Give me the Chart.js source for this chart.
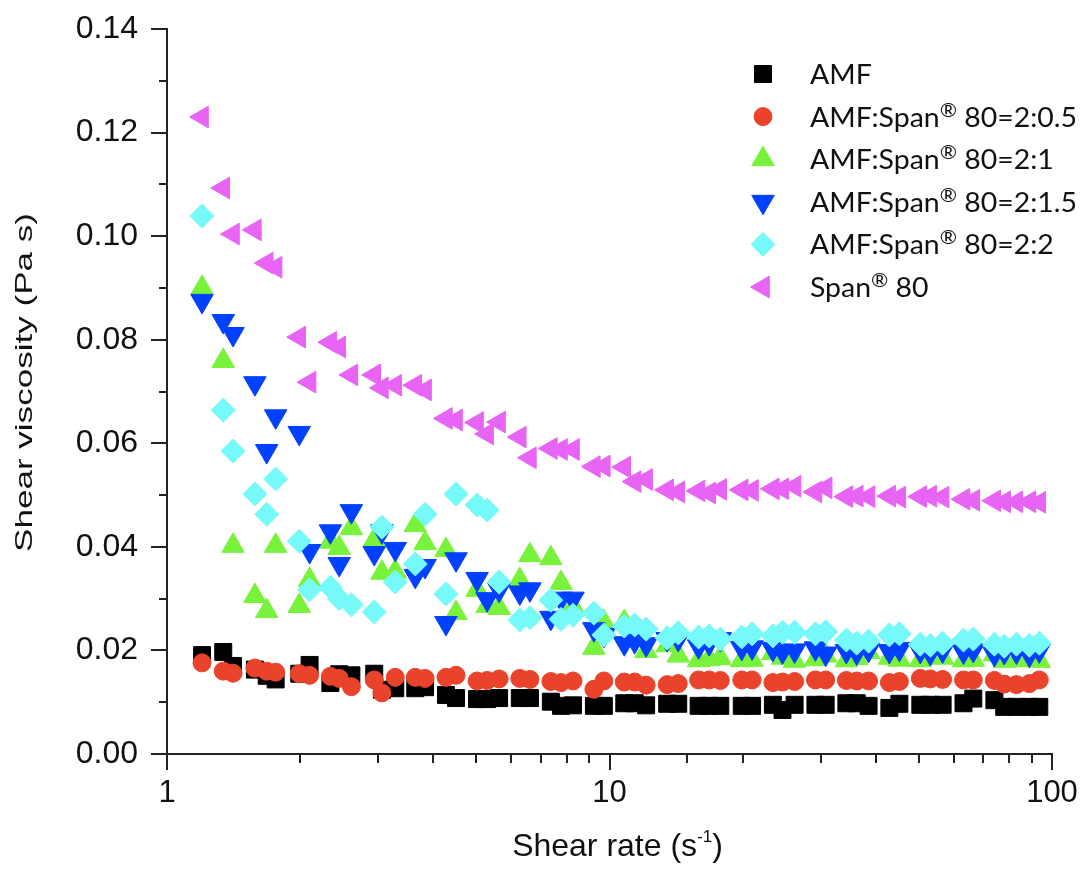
<!DOCTYPE html>
<html>
<head>
<meta charset="utf-8">
<title>Shear viscosity vs shear rate</title>
<script src="https://cdn.jsdelivr.net/npm/chart.js@4.4.1/dist/chart.umd.min.js"></script>
<style>
  html, body { margin: 0; padding: 0; background: #fff; }
  #wrap { width: 1083px; height: 869px; }
</style>
</head>
<body>
<div id="wrap"><canvas id="viscosityChart" width="1083" height="869"></canvas></div>
<script>
// Shear rate (1/s) for every flow curve
const shearRate = [1.20, 1.34, 1.41, 1.58, 1.68, 1.76, 1.99, 2.10, 2.34, 2.45,
    2.61, 2.94, 3.06, 3.28, 3.64, 3.83, 4.27, 4.50, 5.02, 5.29,
    5.63, 6.27, 6.61, 7.37, 7.77, 8.27, 9.22, 9.71, 10.8, 11.4,
    12.1, 13.5, 14.3, 15.9, 16.8, 17.8, 19.9, 21.0, 23.4, 24.6,
    26.2, 29.2, 30.8, 34.3, 36.2, 38.5, 42.9, 45.2, 50.4, 53.1,
    56.6, 63.1, 66.4, 74.1, 78.0, 83.1, 88.9, 93.6];

// Shear viscosity (Pa s)
const amf = [0.0191, 0.0197, 0.0170, 0.0163, 0.0151, 0.0144, 0.0155, 0.0172, 0.0137, 0.0154,
    0.0152, 0.0155, 0.0124, 0.0127, 0.0127, 0.0129, 0.0114, 0.0108, 0.0106, 0.0106,
    0.0108, 0.0108, 0.0108, 0.0101, 0.0093, 0.0094, 0.0093, 0.0093, 0.0098, 0.0098,
    0.0094, 0.0097, 0.0097, 0.0093, 0.0093, 0.0093, 0.0093, 0.0093, 0.0095, 0.0085,
    0.0095, 0.0095, 0.0095, 0.0098, 0.0098, 0.0093, 0.0089, 0.0097, 0.0095, 0.0095,
    0.0095, 0.0098, 0.0107, 0.0104, 0.0091, 0.0091, 0.0091, 0.0091];

const ratio2to05 = [0.0176, 0.0160, 0.0156, 0.0166, 0.0160, 0.0158, 0.0155, 0.0152, 0.0150, 0.0146,
    0.0130, 0.0143, 0.0118, 0.0148, 0.0148, 0.0146, 0.0148, 0.0152, 0.0141, 0.0142,
    0.0145, 0.0146, 0.0144, 0.0140, 0.0138, 0.0141, 0.0125, 0.0141, 0.0139, 0.0139,
    0.0133, 0.0134, 0.0136, 0.0143, 0.0143, 0.0142, 0.0143, 0.0143, 0.0138, 0.0139,
    0.0140, 0.0143, 0.0143, 0.0142, 0.0141, 0.0141, 0.0138, 0.0140, 0.0146, 0.0145,
    0.0144, 0.0143, 0.0143, 0.0142, 0.0135, 0.0134, 0.0136, 0.0143];

const ratio2to1 = [0.0900, 0.0759, 0.0402, 0.0305, 0.0276, 0.0402, 0.0286, 0.0336, 0.0410, 0.0398,
    0.0436, 0.0413, 0.0350, 0.0352, 0.0442, 0.0407, 0.0394, 0.0272, 0.0317, 0.0286,
    0.0282, 0.0336, 0.0384, 0.0378, 0.0330, 0.0285, 0.0205, 0.0255, 0.0255, 0.0225,
    0.0199, 0.0210, 0.0190, 0.0181, 0.0183, 0.0185, 0.0181, 0.0182, 0.0195, 0.0186,
    0.0180, 0.0183, 0.0190, 0.0181, 0.0185, 0.0197, 0.0186, 0.0182, 0.0181, 0.0197,
    0.0186, 0.0181, 0.0182, 0.0192, 0.0180, 0.0181, 0.0182, 0.0180];

const ratio2to15 = [0.0875, 0.0836, 0.0811, 0.0716, 0.0585, 0.0652, 0.0620, 0.0392, 0.0430, 0.0367,
    0.0469, 0.0388, 0.0430, 0.0396, 0.0344, 0.0363, 0.0253, 0.0376, 0.0338, 0.0299,
    0.0317, 0.0312, 0.0318, 0.0263, 0.0300, 0.0300, 0.0241, 0.0230, 0.0214, 0.0218,
    0.0212, 0.0222, 0.0222, 0.0208, 0.0214, 0.0222, 0.0205, 0.0206, 0.0203, 0.0198,
    0.0200, 0.0204, 0.0194, 0.0199, 0.0196, 0.0201, 0.0199, 0.0203, 0.0199, 0.0195,
    0.0200, 0.0198, 0.0201, 0.0193, 0.0197, 0.0198, 0.0192, 0.0200];

const ratio2to2 = [0.1039, 0.0664, 0.0585, 0.0502, 0.0463, 0.0531, 0.0411, 0.0317, 0.0322, 0.0300,
    0.0288, 0.0274, 0.0438, 0.0332, 0.0367, 0.0463, 0.0309, 0.0502, 0.0481, 0.0471,
    0.0332, 0.0259, 0.0263, 0.0297, 0.0260, 0.0268, 0.0272, 0.0230, 0.0247, 0.0249,
    0.0241, 0.0224, 0.0234, 0.0226, 0.0228, 0.0222, 0.0226, 0.0232, 0.0228, 0.0235,
    0.0235, 0.0232, 0.0236, 0.0220, 0.0214, 0.0218, 0.0230, 0.0232, 0.0212, 0.0210,
    0.0214, 0.0220, 0.0222, 0.0212, 0.0208, 0.0212, 0.0210, 0.0214];

const span80 = [0.1230, 0.1093, 0.1004, 0.1012, 0.0948, 0.0940, 0.0805, 0.0718, 0.0795, 0.0786,
    0.0732, 0.0732, 0.0707, 0.0712, 0.0712, 0.0703, 0.0648, 0.0645, 0.0640, 0.0618,
    0.0641, 0.0612, 0.0572, 0.0590, 0.0588, 0.0588, 0.0555, 0.0556, 0.0554, 0.0526,
    0.0530, 0.0510, 0.0506, 0.0508, 0.0504, 0.0511, 0.0510, 0.0509, 0.0512, 0.0512,
    0.0517, 0.0506, 0.0514, 0.0497, 0.0498, 0.0497, 0.0498, 0.0496, 0.0497, 0.0498,
    0.0496, 0.0492, 0.0490, 0.0489, 0.0487, 0.0487, 0.0487, 0.0486];

const seriesLabels = ['AMF', 'AMF:Span® 80=2:0.5', 'AMF:Span® 80=2:1',
    'AMF:Span® 80=2:1.5', 'AMF:Span® 80=2:2', 'Span® 80'];
const seriesValues = [amf, ratio2to05, ratio2to1, ratio2to15, ratio2to2, span80];

// x tick labels (decades) and y range
const xLabels = [1, 10, 100];
const yMin = 0, yMax = 0.14, yStep = 0.01;

// marker look per series
const markers = [
    { color: '#000000', style: 'rect', radius: 12, rotation: 0 },
    { color: '#E9432C', style: 'circle', radius: 9, rotation: 0 },
    { color: '#79F23C', style: 'triangle', radius: 13, rotation: 0 },
    { color: '#0041FF', style: 'triangle', radius: 13, rotation: 180 },
    { color: '#76FAF9', style: 'rectRot', radius: 12, rotation: 0 },
    { color: '#E864F5', style: 'triangle', radius: 12.5, rotation: 270 }
];

const FONT = '"Liberation Sans", Arial, sans-serif';

function buildDatasets() {
    return seriesValues.map((vals, i) => ({
        label: seriesLabels[i],
        data: shearRate.map((x, j) => ({ x: x, y: vals[j] })),
        showLine: false,
        backgroundColor: markers[i].color,
        borderColor: markers[i].color,
        pointStyle: markers[i].style,
        pointRadius: markers[i].radius,
        pointHoverRadius: markers[i].radius,
        pointRotation: markers[i].rotation,
        pointBorderWidth: 1,
        order: seriesValues.length - 1 - i
    }));
}

// text with a raised piece (superscript)
function drawSuperText(ctx, parts, x, y) {
    let cx = x;
    parts.forEach(p => {
        ctx.font = p.font;
        ctx.fillText(p.text, cx, y - (p.rise || 0));
        cx += ctx.measureText(p.text).width;
    });
    return cx - x;
}

function measureParts(ctx, parts) {
    let w = 0;
    parts.forEach(p => { ctx.font = p.font; w += ctx.measureText(p.text).width; });
    return w;
}

// tick marks, axis titles and the legend box
const decorations = {
    id: 'decorations',
    afterDraw(chart) {
        const { ctx, chartArea: a, scales: { x, y } } = chart;
        ctx.save();

        // outward tick marks, long at labelled values
        ctx.strokeStyle = '#222';
        ctx.lineWidth = 2;
        ctx.beginPath();
        y.ticks.forEach(t => {
            const py = Math.round(y.getPixelForValue(t.value));
            const len = Math.round(t.value * 100) % 2 === 0 ? 16 : 8;
            ctx.moveTo(a.left - len, py);
            ctx.lineTo(a.left, py);
        });
        x.ticks.forEach(t => {
            const px = Math.round(x.getPixelForValue(t.value));
            const len = xLabels.includes(t.value) ? 16 : 9;
            ctx.moveTo(px, a.bottom);
            ctx.lineTo(px, a.bottom + len);
        });
        ctx.stroke();

        ctx.fillStyle = '#111';
        ctx.textBaseline = 'alphabetic';
        ctx.textAlign = 'left';

        // x title: Shear rate (s^-1)
        const xParts = [
            { text: 'Shear rate (s', font: '32px ' + FONT },
            { text: '-1', font: '17px ' + FONT, rise: 14 },
            { text: ')', font: '32px ' + FONT }
        ];
        const xw = measureParts(ctx, xParts);
        drawSuperText(ctx, xParts, (a.left + a.right) / 2 + 8 - xw / 2, a.bottom + 102);

        // y title, stretched along its length
        ctx.save();
        ctx.font = '24px ' + FONT;
        const yTitle = 'Shear viscosity (Pa s)';
        const yw = ctx.measureText(yTitle).width;
        ctx.translate(32, (a.top + a.bottom) / 2 - 9);
        ctx.rotate(-Math.PI / 2);
        ctx.scale(339 / yw, 1);
        ctx.textAlign = 'center';
        ctx.fillText(yTitle, 0, 0);
        ctx.restore();

        // legend
        const legendFont = '26px Lato, "Open Sans", sans-serif';
        const regFont = '19px Lato, "Open Sans", sans-serif';
        const pieces = seriesLabels.map(lbl => {
            const k = lbl.indexOf('®');
            if (k < 0) return [{ text: lbl, font: legendFont }];
            return [
                { text: lbl.slice(0, k), font: legendFont },
                { text: '®', font: regFont, rise: 10 },
                { text: ' ' + lbl.slice(k + 1).trim(), font: legendFont }
            ];
        });
        const widest = Math.max(...pieces.map(p => measureParts(ctx, p)));
        const sx = 267 / widest;
        const markX = a.right - 289;
        const textX = a.right - 242;
        chart.data.datasets.forEach((ds, i) => {
            const base = a.top + 55 + i * 42.6;
            ctx.fillStyle = ds.backgroundColor;
            ctx.strokeStyle = ds.borderColor;
            ctx.lineWidth = 1;
            Chart.helpers.drawPoint(ctx, {
                pointStyle: ds.pointStyle,
                radius: ds.pointRadius,
                rotation: ds.pointRotation,
                borderWidth: 1
            }, markX, base - 10);

            ctx.save();
            ctx.fillStyle = '#111';
            ctx.translate(textX, base);
            ctx.scale(sx, 1);
            drawSuperText(ctx, pieces[i], 0, 0);
            ctx.restore();
        });

        ctx.restore();
    }
};

function createChart() {
    const ctx = document.getElementById('viscosityChart').getContext('2d');
    return new Chart(ctx, {
        type: 'scatter',
        data: { datasets: buildDatasets() },
        options: {
            responsive: false,
            animation: false,
            devicePixelRatio: 1,
            layout: { padding: { left: 0, right: 31, top: 29, bottom: 0 } },
            plugins: {
                legend: { display: false },
                tooltip: { enabled: false },
                title: { display: false }
            },
            scales: {
                x: {
                    type: 'logarithmic',
                    min: 1,
                    max: 100,
                    border: { display: true, color: '#222', width: 2 },
                    grid: { display: false, drawTicks: false },
                    ticks: {
                        autoSkip: false,
                        maxRotation: 0,
                        padding: 21,
                        color: '#111',
                        font: { family: FONT, size: 31 },
                        callback: v => xLabels.includes(v) ? String(v) : ''
                    },
                    afterFit: s => {
                        s.height = 115;
                        s.paddingLeft = 0;
                        s.paddingRight = 0;
                    }
                },
                y: {
                    min: yMin,
                    max: yMax,
                    border: { display: true, color: '#222', width: 2 },
                    grid: { display: false, drawTicks: false },
                    ticks: {
                        stepSize: yStep,
                        autoSkip: false,
                        padding: 29,
                        color: '#111',
                        font: { family: FONT, size: 32 },
                        callback: v => Math.round(v * 100) % 2 === 0 ? v.toFixed(2) : ''
                    },
                    afterFit: s => {
                        s.width = 167;
                        s.paddingTop = 0;
                        s.paddingBottom = 0;
                    }
                }
            }
        },
        plugins: [decorations]
    });
}

window.onload = createChart;
</script>
</body>
</html>
